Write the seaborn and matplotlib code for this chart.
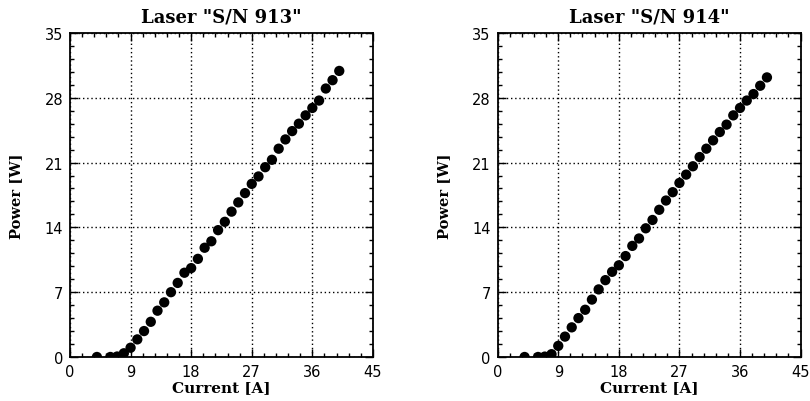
import numpy as np
import pandas as pd
import matplotlib
matplotlib.use("Agg")
import matplotlib.pyplot as plt
from matplotlib.ticker import MultipleLocator
import seaborn as sns

# data
current = [4, 6, 7, 8, 9, 10, 11, 12, 13, 14, 15, 16, 17, 18, 19, 20, 21, 22, 23, 24,
           25, 26, 27, 28, 29, 30, 31, 32, 33, 34, 35, 36, 37, 38, 39, 40]

power_913 = [0.0, 0.0, 0.05, 0.4, 1.0, 1.9, 2.8, 3.8, 5.0, 5.9, 7.0, 8.0, 9.1, 9.6,
             10.6, 11.8, 12.5, 13.7, 14.6, 15.7, 16.7, 17.7, 18.7, 19.5, 20.5, 21.3,
             22.5, 23.5, 24.4, 25.2, 26.1, 26.9, 27.7, 29.0, 29.9, 30.9]

power_914 = [0.0, 0.0, 0.04, 0.3, 1.2, 2.2, 3.2, 4.2, 5.1, 6.2, 7.3, 8.3, 9.2, 9.9,
             10.9, 12.0, 12.8, 13.9, 14.8, 15.9, 16.9, 17.8, 18.8, 19.7, 20.6, 21.6,
             22.5, 23.4, 24.3, 25.1, 26.1, 26.9, 27.7, 28.4, 29.3, 30.2]

titles = ['Laser "S/N 913"', 'Laser "S/N 914"']

sns.set_style("ticks")
plt.rcParams['font.family'] = ['DejaVu Sans']
plt.rcParams['text.color'] = 'black'
plt.rcParams['axes.labelcolor'] = 'black'

fig = plt.figure(figsize=(8.1, 4.02), dpi=100)
ax1 = fig.add_axes([0.0864, 0.1095, 0.374, 0.806])
ax2 = fig.add_axes([0.6144, 0.1095, 0.374, 0.806])

for ax, pw, title in [(ax1, power_913, titles[0]), (ax2, power_914, titles[1])]:
    df = pd.DataFrame({"Current": current, "Power": pw})
    sns.scatterplot(data=df, x="Current", y="Power", ax=ax, color="black",
                    edgecolor="none", s=55, zorder=3)
    ax.set_xlim(0, 45)
    ax.set_ylim(0, 35)
    ax.xaxis.set_major_locator(MultipleLocator(9))
    ax.xaxis.set_minor_locator(MultipleLocator(1.8))
    ax.yaxis.set_major_locator(MultipleLocator(7))
    ax.yaxis.set_minor_locator(MultipleLocator(1.4))
    ax.tick_params(which="both", direction="in", top=True, right=True,
                   color="black", width=1.0, labelsize=10.5, labelcolor="black")
    ax.tick_params(which="major", length=6, pad=5)
    ax.tick_params(which="minor", length=3)
    ax.grid(True, which="major", linestyle=(0, (1, 2)), color="black", linewidth=1.0)
    for sp in ax.spines.values():
        sp.set_linewidth(1.3)
        sp.set_color("black")
    ax.set_title(title, fontsize=13, fontweight="bold", family="DejaVu Serif",
                 color="black", pad=8)
    ax.set_xlabel("Current [A]", fontsize=11, fontweight="bold", family="DejaVu Serif",
                  color="black", labelpad=1)
    ax.set_ylabel("Power [W]", fontsize=10.5, fontweight="bold", family="DejaVu Serif",
                  color="black", labelpad=15)

fig.savefig("out.png", dpi=100)
